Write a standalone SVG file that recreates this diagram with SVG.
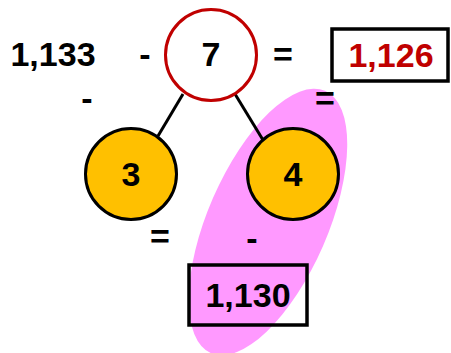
<svg xmlns="http://www.w3.org/2000/svg" width="451" height="353" viewBox="0 0 451 353">
<style>
text{font-family:"Liberation Sans",Arial,sans-serif;font-weight:bold;font-size:34px;fill:#000;text-anchor:middle}
.red{fill:#C00000}
.node{fill:#FFC000;stroke:#000;stroke-width:3}
.box{fill:none;stroke:#000;stroke-width:3.5}
.conn{stroke:#000;stroke-width:3;fill:none}
</style>
<rect width="451" height="353" fill="#fff"/>
<ellipse cx="268" cy="222" rx="60" ry="143" transform="rotate(23.5 268 222)" fill="#FF99FF"/>
<g id="connectors">
<line class="conn" x1="183" y1="94" x2="158" y2="136"/>
<line class="conn" x1="235" y1="94" x2="263" y2="140"/>
</g>
<g id="node7">
<circle cx="211" cy="55" r="45.5" fill="#fff" stroke="#C00000" stroke-width="3"/>
<text x="211" y="66">7</text>
</g>
<g id="node3">
<circle class="node" cx="131" cy="174" r="45.5"/>
<text x="131" y="186">3</text>
</g>
<g id="node4">
<circle class="node" cx="293" cy="174" r="45.5"/>
<text x="293" y="186">4</text>
</g>
<g id="result1">
<rect class="box" x="332" y="29" width="116" height="52"/>
<text class="red" x="391" y="67">1,126</text>
</g>
<g id="result2">
<rect class="box" x="189" y="265" width="118" height="60"/>
<text x="248" y="307">1,130</text>
</g>
<g id="labels">
<text x="53" y="66">1,133</text>
<text x="145" y="66">-</text>
<text x="283" y="66">=</text>
<text x="87" y="110">-</text>
<text x="325" y="110">=</text>
<text x="160" y="248">=</text>
<text x="252" y="250">-</text>
</g>
</svg>
